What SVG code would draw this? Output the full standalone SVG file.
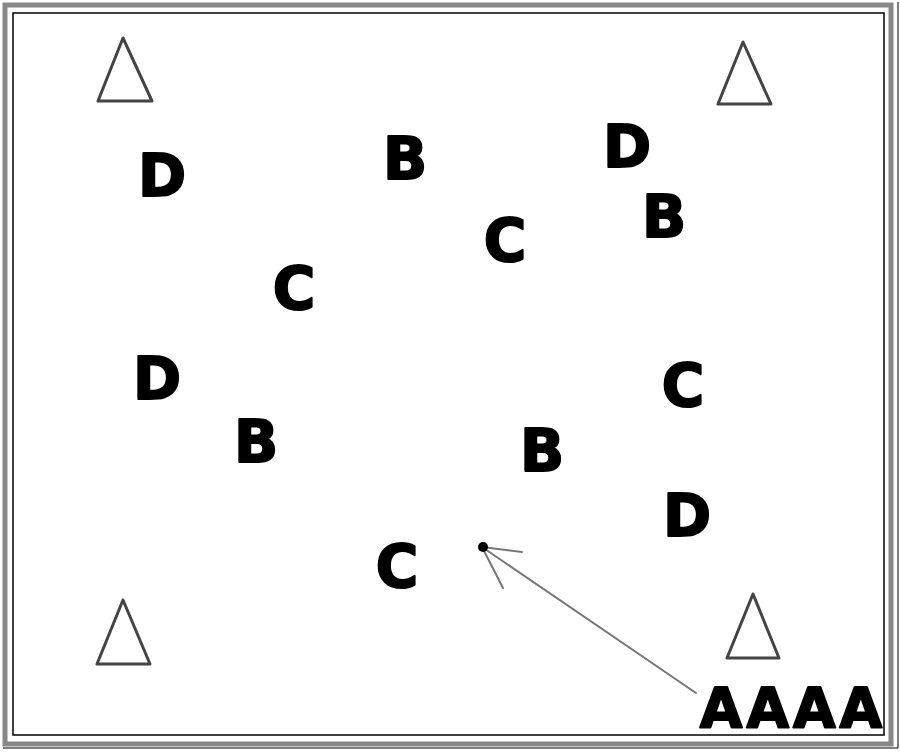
<svg xmlns="http://www.w3.org/2000/svg" width="900" height="752" viewBox="0 0 900 752">
<style>
.t{font-family:"DejaVu Sans","Liberation Sans",sans-serif;font-weight:bold;font-size:58px;fill:#000;stroke:#000;stroke-width:2;stroke-linejoin:round;text-anchor:middle}
.a{font-size:55px;letter-spacing:4px}
.tri{fill:none;stroke:#444;stroke-width:3;stroke-linejoin:round}
.ln{stroke:#777;stroke-width:2;fill:none;stroke-linecap:round}
</style>
<rect width="900" height="752" fill="#fff"/>
<g id="frame">
<rect x="5" y="5" width="886" height="739" fill="none" stroke="#888" stroke-width="5"/>
<rect x="13" y="13" width="871" height="722" fill="none" stroke="#000" stroke-width="1.5"/>
<path d="M3 748 H898 V2" fill="none" stroke="#000" stroke-width="1"/>
</g>
<g id="tri1"><polygon class="tri" points="123,38 98,101 152,101"/></g>
<g id="tri2"><polygon class="tri" points="743,42 718,104 771,104"/></g>
<g id="tri3"><polygon class="tri" points="123,600 97,664 150,664"/></g>
<g id="tri4"><polygon class="tri" points="753,594 727,658 779,658"/></g>
<g id="d1"><text class="t" x="162" y="196">D</text></g>
<g id="b1"><text class="t" x="405" y="179">B</text></g>
<g id="d2"><text class="t" x="627" y="167">D</text></g>
<g id="b2"><text class="t" x="664" y="237">B</text></g>
<g id="c1"><text class="t" x="505" y="261">C</text></g>
<g id="c2"><text class="t" x="294" y="309">C</text></g>
<g id="d3"><text class="t" x="157" y="399">D</text></g>
<g id="c3"><text class="t" x="683" y="406">C</text></g>
<g id="b3"><text class="t" x="256" y="462">B</text></g>
<g id="b4"><text class="t" x="542" y="471">B</text></g>
<g id="d4"><text class="t" x="687" y="536">D</text></g>
<g id="c4"><text class="t" x="397" y="587">C</text></g>
<g id="label"><text class="t a" x="793" y="727">AAAA</text></g>
<g id="connectors">
<line class="ln" x1="696" y1="693" x2="482" y2="547"/>
<polyline class="ln" points="522,552 482,547 503,588"/>
<circle cx="483" cy="547" r="5" fill="#000"/>
</g>
</svg>
